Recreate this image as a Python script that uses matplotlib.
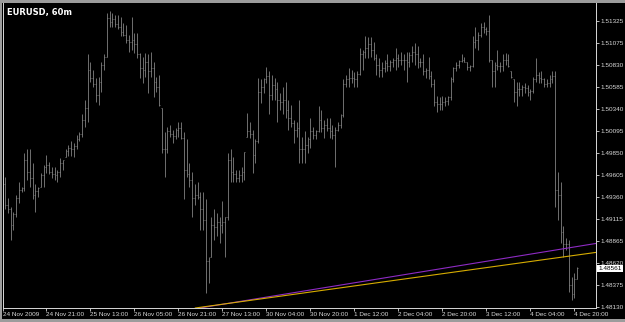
#!/usr/bin/env python3

import matplotlib
matplotlib.use("Agg")
import matplotlib.pyplot as plt
import matplotlib.transforms as mtransforms
from matplotlib.patches import Rectangle
import numpy as np

# EURUSD H1 bars, 24 Nov 2009 06:00 .. 4 Dec 2009 21:00 (bar index = position)
highs = [
    1.4958, 1.4935, 1.4925, 1.4919, 1.4938, 1.4953, 1.4947, 1.4985, 1.4989, 1.4989,
    1.4974, 1.4950, 1.4947, 1.4963, 1.4972, 1.4983, 1.4975, 1.4969, 1.4969, 1.4966,
    1.4979, 1.4977, 1.4989, 1.4994, 1.4998, 1.4996, 1.5005, 1.5008, 1.5028, 1.5044,
    1.5095, 1.5087, 1.5078, 1.5069, 1.5070, 1.5087, 1.5095, 1.5141, 1.5143, 1.5141,
    1.5139, 1.5139, 1.5137, 1.5130, 1.5128, 1.5117, 1.5137, 1.5119, 1.5119, 1.5097,
    1.5092, 1.5097, 1.5095, 1.5098, 1.5087, 1.5070, 1.5072, 1.5035, 1.5008, 1.5014,
    1.5016, 1.5011, 1.5013, 1.5020, 1.5019, 1.5008, 1.5000, 1.4974, 1.4964, 1.4950,
    1.4953, 1.4941, 1.4941, 1.4933, 1.4869, 1.4914, 1.4922, 1.4918, 1.4914, 1.4931,
    1.4914, 1.4985, 1.4989, 1.4980, 1.4966, 1.4966, 1.4969, 1.4986, 1.5030, 1.5019,
    1.5011, 1.5000, 1.5069, 1.5067, 1.5069, 1.5081, 1.5076, 1.5072, 1.5069, 1.5064,
    1.5052, 1.5058, 1.5064, 1.5044, 1.5039, 1.5022, 1.5019, 1.5044, 1.5003, 1.5009,
    1.5003, 1.5024, 1.5014, 1.5011, 1.5037, 1.5033, 1.5022, 1.5024, 1.5024, 1.5016,
    1.5014, 1.5019, 1.5028, 1.5067, 1.5072, 1.5080, 1.5078, 1.5075, 1.5076, 1.5102,
    1.5100, 1.5115, 1.5114, 1.5114, 1.5109, 1.5095, 1.5091, 1.5086, 1.5089, 1.5095,
    1.5089, 1.5091, 1.5102, 1.5095, 1.5098, 1.5095, 1.5098, 1.5098, 1.5104, 1.5108,
    1.5104, 1.5091, 1.5095, 1.5080, 1.5092, 1.5076, 1.5067, 1.5048, 1.5047, 1.5048,
    1.5047, 1.5048, 1.5070, 1.5081, 1.5087, 1.5089, 1.5095, 1.5092, 1.5087, 1.5083,
    1.5115, 1.5126, 1.5120, 1.5130, 1.5131, 1.5126, 1.5139, 1.5089, 1.5087, 1.5100,
    1.5086, 1.5095, 1.5097, 1.5095, 1.5076, 1.5067, 1.5064, 1.5064, 1.5061, 1.5063,
    1.5061, 1.5056, 1.5070, 1.5091, 1.5075, 1.5076, 1.5069, 1.5067, 1.5072, 1.5076,
    1.5076, 1.4964, 1.4952, 1.4903, 1.4890, 1.4888, 1.4846, 1.4851, 1.4858,
]
lows = [
    1.4922, 1.4918, 1.4888, 1.4899, 1.4914, 1.4929, 1.4941, 1.4942, 1.4955, 1.4947,
    1.4933, 1.4919, 1.4936, 1.4947, 1.4947, 1.4963, 1.4961, 1.4957, 1.4955, 1.4953,
    1.4958, 1.4966, 1.4980, 1.4981, 1.4981, 1.4980, 1.4989, 1.4998, 1.5003, 1.5014,
    1.5020, 1.5064, 1.5059, 1.5042, 1.5039, 1.5053, 1.5078, 1.5092, 1.5126, 1.5125,
    1.5126, 1.5123, 1.5115, 1.5115, 1.5108, 1.5098, 1.5100, 1.5097, 1.5091, 1.5069,
    1.5063, 1.5070, 1.5052, 1.5070, 1.5047, 1.5053, 1.5037, 1.4985, 1.4958, 1.4985,
    1.5003, 1.4996, 1.5000, 1.5003, 1.5000, 1.4933, 1.4958, 1.4947, 1.4914, 1.4927,
    1.4933, 1.4899, 1.4899, 1.4829, 1.4840, 1.4869, 1.4888, 1.4892, 1.4885, 1.4896,
    1.4869, 1.4910, 1.4952, 1.4953, 1.4953, 1.4952, 1.4952, 1.4955, 1.5003, 1.5002,
    1.4963, 1.4974, 1.4996, 1.5041, 1.5052, 1.5063, 1.5028, 1.5044, 1.5044, 1.5020,
    1.5033, 1.5028, 1.5024, 1.5011, 1.5014, 1.4996, 1.5003, 1.4974, 1.4974, 1.4974,
    1.4985, 1.4991, 1.5000, 1.5000, 1.5008, 1.5008, 1.5002, 1.5009, 1.5002, 1.5000,
    1.4969, 1.5009, 1.5013, 1.5025, 1.5058, 1.5059, 1.5063, 1.5059, 1.5059, 1.5072,
    1.5078, 1.5091, 1.5091, 1.5092, 1.5089, 1.5072, 1.5070, 1.5070, 1.5075, 1.5076,
    1.5076, 1.5081, 1.5078, 1.5081, 1.5083, 1.5078, 1.5064, 1.5081, 1.5087, 1.5083,
    1.5080, 1.5081, 1.5072, 1.5069, 1.5067, 1.5059, 1.5037, 1.5031, 1.5033, 1.5033,
    1.5037, 1.5039, 1.5044, 1.5064, 1.5076, 1.5080, 1.5086, 1.5086, 1.5078, 1.5076,
    1.5081, 1.5102, 1.5100, 1.5114, 1.5119, 1.5117, 1.5087, 1.5059, 1.5058, 1.5078,
    1.5075, 1.5076, 1.5083, 1.5081, 1.5069, 1.5042, 1.5037, 1.5048, 1.5048, 1.5052,
    1.5048, 1.5044, 1.5052, 1.5064, 1.5063, 1.5063, 1.5058, 1.5058, 1.5058, 1.5063,
    1.4925, 1.4910, 1.4885, 1.4869, 1.4877, 1.4830, 1.4821, 1.4823, 1.4844,
]
closes = [
    1.4927, 1.4922, 1.4905, 1.4917, 1.4935, 1.4944, 1.4946, 1.4977, 1.4964, 1.4957,
    1.4938, 1.4942, 1.4946, 1.4960, 1.4969, 1.4972, 1.4964, 1.4962, 1.4960, 1.4964,
    1.4974, 1.4977, 1.4987, 1.4990, 1.4989, 1.4993, 1.5001, 1.5006, 1.5022, 1.5035,
    1.5078, 1.5069, 1.5062, 1.5050, 1.5064, 1.5083, 1.5092, 1.5136, 1.5131, 1.5134,
    1.5129, 1.5126, 1.5120, 1.5117, 1.5111, 1.5109, 1.5111, 1.5106, 1.5095, 1.5080,
    1.5078, 1.5087, 1.5076, 1.5080, 1.5064, 1.5058, 1.5039, 1.4989, 1.4989, 1.5009,
    1.5006, 1.5004, 1.5011, 1.5013, 1.5002, 1.4966, 1.4961, 1.4955, 1.4935, 1.4938,
    1.4936, 1.4922, 1.4910, 1.4864, 1.4868, 1.4905, 1.4902, 1.4908, 1.4905, 1.4908,
    1.4913, 1.4977, 1.4964, 1.4961, 1.4957, 1.4960, 1.4964, 1.4986, 1.5009, 1.5006,
    1.4983, 1.4998, 1.5053, 1.5058, 1.5067, 1.5071, 1.5050, 1.5061, 1.5056, 1.5044,
    1.5042, 1.5044, 1.5033, 1.5024, 1.5018, 1.5011, 1.5013, 1.4989, 1.4989, 1.4994,
    1.5000, 1.5009, 1.5005, 1.5010, 1.5022, 1.5013, 1.5016, 1.5013, 1.5009, 1.5005,
    1.5011, 1.5016, 1.5027, 1.5062, 1.5067, 1.5069, 1.5069, 1.5067, 1.5073, 1.5095,
    1.5098, 1.5102, 1.5106, 1.5100, 1.5091, 1.5083, 1.5078, 1.5080, 1.5085, 1.5082,
    1.5086, 1.5089, 1.5091, 1.5089, 1.5089, 1.5089, 1.5087, 1.5094, 1.5098, 1.5095,
    1.5087, 1.5086, 1.5076, 1.5078, 1.5071, 1.5062, 1.5042, 1.5040, 1.5040, 1.5042,
    1.5043, 1.5047, 1.5067, 1.5080, 1.5083, 1.5088, 1.5089, 1.5087, 1.5081, 1.5082,
    1.5109, 1.5111, 1.5117, 1.5125, 1.5123, 1.5121, 1.5089, 1.5076, 1.5083, 1.5082,
    1.5082, 1.5089, 1.5089, 1.5082, 1.5070, 1.5053, 1.5056, 1.5056, 1.5058, 1.5057,
    1.5053, 1.5054, 1.5067, 1.5072, 1.5069, 1.5067, 1.5062, 1.5063, 1.5067, 1.5071,
    1.4944, 1.4938, 1.4897, 1.4883, 1.4883, 1.4838, 1.4827, 1.4844, 1.48561,
]
first_open = 1.4950
last_price = 1.48561

# time axis labels (bar index -> text)
date_ticks = [-0.6, 15, 31, 47, 63, 79, 95, 111, 127, 143, 159, 175, 191, 207]
date_labels = ["24 Nov 2009", "24 Nov 21:00", "25 Nov 13:00", "26 Nov 05:00",
               "26 Nov 21:00", "27 Nov 13:00", "30 Nov 04:00", "30 Nov 20:00",
               "1 Dec 12:00", "2 Dec 04:00", "2 Dec 20:00", "3 Dec 12:00",
               "4 Dec 04:00", "4 Dec 20:00"]
price_ticks = [1.51325, 1.51075, 1.50830, 1.50585, 1.50340, 1.50095, 1.49850,
               1.49605, 1.49360, 1.49115, 1.48865, 1.48620, 1.48375, 1.48130]

# two trend lines (bar index, price)
purple_line = [(107, 1.4830), (215, 1.4884)]
gold_line = [(107, 1.4828), (215, 1.4874)]

fg = "#d8d8d8"
bar_col = "#8e8e8e"

fig = plt.figure(figsize=(6.25, 3.22), dpi=100, facecolor="black")
W, H = 625.0, 322.0
ax = fig.add_axes([3 / W, (H - 308) / H, (596 - 3) / W, (308 - 3) / H])
ax.set_facecolor("black")

x = np.arange(len(highs))
hi = np.array(highs)
lo = np.array(lows)
cl = np.array(closes)
op = np.clip(np.concatenate([[first_open], cl[:-1]]), lo, hi)

ax.vlines(x, lo, hi, color=bar_col, lw=0.55)
ax.hlines(op, x - 0.35, x, color=bar_col, lw=0.5)
ax.hlines(cl, x, x + 0.35, color=bar_col, lw=0.5)

ax.axline(purple_line[0], purple_line[1], color="#8e2bc4", lw=0.8)
ax.axline(gold_line[0], gold_line[1], color="#d6ac00", lw=0.8)

ax.set_xlim(-0.73, 214.9)
ax.set_ylim(1.48119, 1.51523)

ax.yaxis.tick_right()
ax.set_yticks(price_ticks)
ax.set_yticklabels(["%.5f" % p for p in price_ticks])
ax.set_xticks(date_ticks)
ax.set_xticklabels(date_labels, ha="left")
ax.tick_params(colors=fg, labelcolor=fg, labelsize=4.6, length=2, width=0.6,
               direction="out", pad=1)
for lab in ax.get_xticklabels() + ax.get_yticklabels():
    lab.set_fontfamily("Liberation Sans")

for side in ["left", "bottom", "right"]:
    ax.spines[side].set_color(fg)
    ax.spines[side].set_linewidth(0.7)
ax.spines["top"].set_visible(False)

# current price box
trans = mtransforms.blended_transform_factory(ax.transAxes, ax.transData)
ax.text(1.004, last_price, "%.5f" % last_price, transform=trans, ha="left",
        va="center", fontsize=4.6, family="Liberation Sans", color="black",
        bbox=dict(boxstyle="square,pad=0.2", fc="white", ec="none"), clip_on=False)

fig.text(7 / W, 1 - 12 / H, "EURUSD, 60m", color="white", fontsize=6,
         fontweight="bold", va="center", ha="left")

# window frame
fig.patches.append(Rectangle((0, 1 - 3 / H), 1, 3 / H, transform=fig.transFigure,
                             fc="#9c9c9c", ec="none"))
fig.patches.append(Rectangle((0, 0), 2 / W, 1, transform=fig.transFigure,
                             fc="#9c9c9c", ec="none"))
fig.patches.append(Rectangle((0, 0), 1, 3 / H, transform=fig.transFigure,
                             fc="#9c9c9c", ec="none"))

fig.savefig("out.png", dpi=100, facecolor="black")
